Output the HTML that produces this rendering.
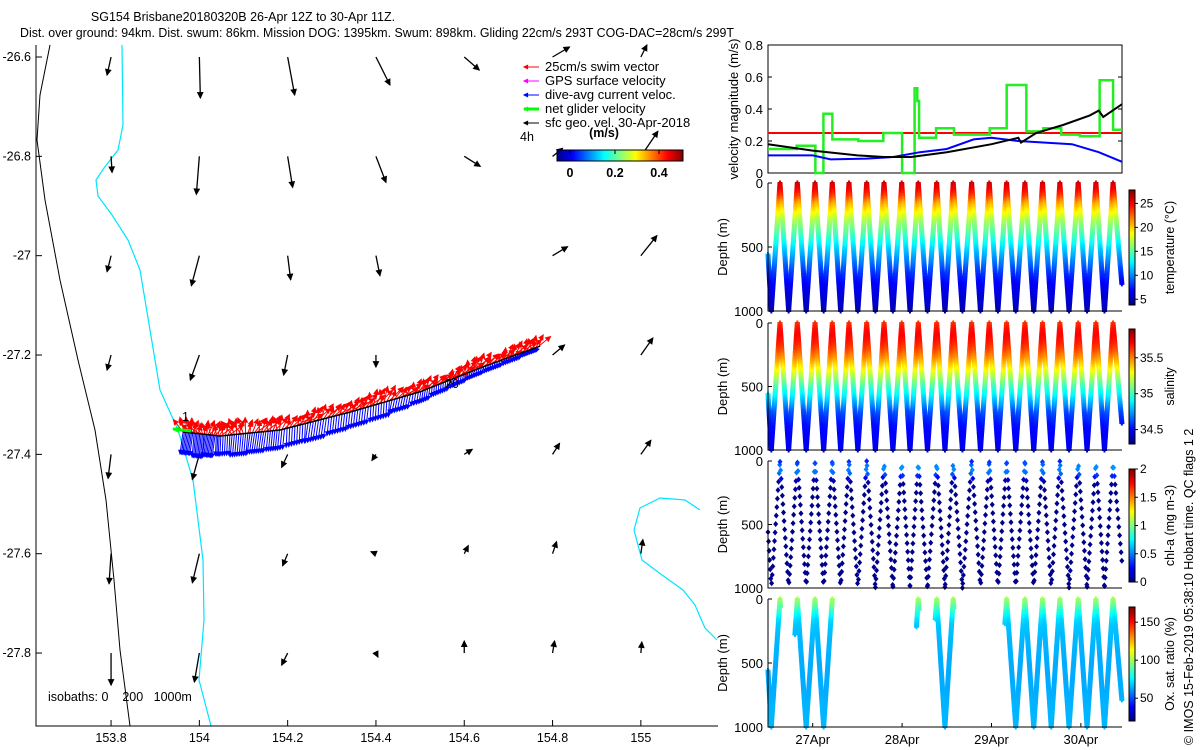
<!DOCTYPE html>
<html><head><meta charset="utf-8"><style>
html,body{margin:0;padding:0;background:#fff;}
svg{display:block;font-family:"Liberation Sans",sans-serif;}
</style></head><body>
<svg id="root" width="1200" height="750" viewBox="0 0 1200 750" xmlns="http://www.w3.org/2000/svg">
<text x="243" y="21" font-size="12.5" text-anchor="middle">SG154 Brisbane20180320B 26-Apr 12Z to 30-Apr 11Z.</text>
<text x="20" y="37" font-size="12.5" textLength="714" lengthAdjust="spacingAndGlyphs">Dist. over ground: 94km. Dist. swum: 86km. Mission DOG: 1395km. Swum: 898km. Gliding 22cm/s 293T COG-DAC=28cm/s 299T</text>
<g id="map"></g>
<g id="vel"></g>
<g id="prof"></g>
<text transform="translate(1193,745) rotate(-90)" font-size="12.5">© IMOS 15-Feb-2019 05:38:10 Hobart time. QC flags 1  2</text>
</svg>
<script>
// ---------- DATA ----------
const lonTicks=[153.8,154,154.2,154.4,154.6,154.8,155];
const latTicks=[-26.6,-26.8,-27,-27.2,-27.4,-27.6,-27.8];
const geoU=[[-0.04,0.01,0.07,0.14,0.15,0.17,0.06],[0.01,-0.03,0.05,0.10,0.16,0.10,0.17],[-0.04,-0.08,0.03,0.04,0.0,0.15,0.16],[-0.04,-0.09,-0.04,0.0,0.0,0.12,0.12],[-0.03,-0.07,-0.06,-0.04,0.08,0.07,0.10],[-0.02,-0.07,-0.05,-0.05,0.04,0.04,0.02],[0.0,-0.05,-0.06,0.02,0.0,0.02,0.01]];
const geoV=[[-0.18,-0.41,-0.38,-0.28,-0.13,0.10,0.12],[-0.16,-0.38,-0.31,-0.26,-0.10,0.08,0.25],[-0.16,-0.30,-0.24,-0.20,0.0,0.09,0.20],[-0.15,-0.25,-0.20,-0.12,0.0,0.10,0.17],[-0.24,-0.25,-0.13,-0.06,0.05,0.11,0.14],[-0.30,-0.29,-0.12,0.02,0.08,0.12,0.14],[-0.32,-0.29,-0.12,-0.04,0.12,0.12,0.11]];
const trackLon=[153.963,154.047,154.183,154.341,154.500,154.636,154.772];
const trackLat=[-27.355,-27.363,-27.351,-27.315,-27.274,-27.226,-27.182];
const swimU=[-0.02,-0.05,0.04,0.06,-0.03,0.08,0.05,0.10,0.07,0.12,0.09,0.06,0.11,0.08,0.13,0.10,0.07,0.12,0.09,0.05];
const swimV=[0.16,0.12,0.15,0.14,0.17,0.15,0.16,0.13,0.16,0.14,0.15,0.17,0.13,0.15,0.12,0.14,0.16,0.12,0.15,0.14];
const dacU=[-0.03,-0.02,-0.03,-0.01,-0.02,-0.03,-0.02,-0.01,-0.03,-0.02,-0.02,-0.01,-0.03,-0.02,-0.01,-0.02,-0.03,-0.02,-0.01,-0.02];
const dacV=[-0.22,-0.24,-0.22,-0.2,-0.22,-0.21,-0.2,-0.19,-0.2,-0.18,-0.17,-0.16,-0.14,-0.12,-0.1,-0.09,-0.08,-0.07,-0.06,-0.05];
const redVal=0.25;
const greenT=[26.5,26.82,27.03,27.12,27.22,27.51,27.79,28.0,28.14,28.17,28.19,28.38,28.58,28.98,29.17,29.39,29.58,29.78,29.99,30.21,30.36];
const greenV=[0.15,0.17,0,0.37,0.21,0.2,0.25,0,0.53,0.45,0.22,0.28,0.24,0.28,0.55,0.26,0.28,0.24,0.23,0.58,0.27];
const blackT=[26.5,27.0,27.5,27.8,28.1,28.5,29.0,29.3,29.33,29.5,29.8,30.1,30.2,30.25,30.46];
const blackV=[0.18,0.14,0.11,0.10,0.10,0.13,0.18,0.22,0.19,0.25,0.30,0.36,0.39,0.35,0.43];
const blueT=[26.5,27.0,27.2,27.6,27.9,28.2,28.5,28.8,29.0,29.3,29.6,29.9,30.2,30.46];
const blueV=[0.11,0.11,0.085,0.09,0.10,0.13,0.15,0.21,0.22,0.20,0.19,0.18,0.13,0.07];
const dateTicks=[27,28,29,30];
const dateLabels=["27Apr","28Apr","29Apr","30Apr"];
const surfT=[26.634,26.828,27.026,27.219,27.406,27.604,27.798,27.996,28.181,28.387,28.572,28.778,28.975,29.169,29.374,29.571,29.765,29.970,30.168,30.360];
const profDepth=[0,50,100,150,200,300,400,500,600,700,800,1000];
const tempProf=[26,25,23.5,21,19.5,16.5,14.5,12,10,8,6.5,5];
const salProf=[35.62,35.68,35.7,35.66,35.6,35.42,35.22,35.0,34.82,34.62,34.52,34.46];
const chlProf=[0.3,0.55,0.45,0.1,0.03,0.02,0.02,0.02,0.02,0.02,0.02,0.02];
const oxProf=[100,92,80,72,68,66,65,64,64,64,65,66];
const oxIntervals=[[26.5,26.64],[26.8,27.22],[28.16,28.19],[28.37,28.58],[29.15,30.46]];

// ---------- HELPERS ----------
const NS="http://www.w3.org/2000/svg";
function mk(tag,attrs,parent){const e=document.createElementNS(NS,tag);for(const k in attrs)e.setAttribute(k,attrs[k]);parent.appendChild(e);return e;}
function txt(s,x,y,attrs,parent){const e=mk('text',Object.assign({x:x,y:y,'font-size':12.5},attrs),parent);e.textContent=s;return e;}
function jet(v){v=Math.max(0,Math.min(1,v));const c=x=>Math.round(255*Math.max(0,Math.min(1,x)));return `rgb(${c(1.5-Math.abs(4*v-3))},${c(1.5-Math.abs(4*v-2))},${c(1.5-Math.abs(4*v-1))})`;}
function interp(xs,ys,x){if(x<=xs[0])return ys[0];for(let i=1;i<xs.length;i++){if(x<=xs[i]){const f=(x-xs[i-1])/(xs[i]-xs[i-1]);return ys[i-1]+f*(ys[i]-ys[i-1]);}}return ys[ys.length-1];}
function arrow(g,x1,y1,x2,y2,col,w,hs){
  const l=mk('line',{x1:x1,y1:y1,x2:x2,y2:y2,stroke:col,'stroke-width':w},g);
  const a=Math.atan2(y2-y1,x2-x1);
  const p=[[x2,y2],[x2-hs*Math.cos(a-0.45),y2-hs*Math.sin(a-0.45)],[x2-hs*Math.cos(a+0.45),y2-hs*Math.sin(a+0.45)]];
  mk('polygon',{points:p.map(q=>q.join(',')).join(' '),fill:col,stroke:col,'stroke-width':1},g);
  return l;
}

// ---------- MAP ----------
const map=document.getElementById('map');
const mx=lon=>36+(lon-153.630)*441.5;
const my=lat=>57+(-26.6-lat)*496.7;
const coast=mk('polyline',{points:"50,45 40,95 37,140 45,200 60,280 78,360 95,430 106,500 114,580 120,650 130,726",fill:'none',stroke:'#000','stroke-width':1},map);


const iso200=mk('polyline',{points:"122,45 123,125 118,150 104,168 96,180 98,196 112,215 128,240 140,270 150,330 160,390 178,430 193,480 203,560 204,620 199,680 211,726",fill:'none',stroke:'#00e5ff','stroke-width':1.2},map);


const iso2=mk('polyline',{points:"717,640 705,628 695,605 683,590 662,575 642,560 634,530 640,508 660,498 685,500 700,510",fill:'none',stroke:'#00e5ff','stroke-width':1.2},map);


const ax=mk('path',{d:"M36,45 V726 H718",fill:'none',stroke:'#000','stroke-width':1},map);


latTicks.forEach(lat=>{const y=my(lat);mk('line',{x1:36,y1:y,x2:42,y2:y,stroke:'#000'},map);
  const t=txt(String(lat),31,y+4,{'text-anchor':'end'},map);
  
  });
lonTicks.forEach(lon=>{const x=mx(lon);mk('line',{x1:x,y1:726,x2:x,y2:720,stroke:'#000'},map);
  const t=txt(String(lon),x,742,{'text-anchor':'middle'},map);
  
  });
const gs=100;
latTicks.forEach((lat,i)=>lonTicks.forEach((lon,j)=>{
  const x=mx(lon),y=my(lat),u=geoU[i][j],v=geoV[i][j];
  if(Math.abs(u)+Math.abs(v)<0.005)return;
  const l=arrow(map,x,y,x+u*gs,y-v*gs,'#000',1.3,6);
  
  
}));
function trackPt(s){const n=trackLon.length-1;const f=s*n;const i=Math.min(n-1,Math.floor(f));const r=f-i;
  return [mx(trackLon[i]+(trackLon[i+1]-trackLon[i])*r),my(trackLat[i]+(trackLat[i+1]-trackLat[i])*r)];}
const nd=swimU.length, per=8, vs=100;
const blueG=mk('g',{},map);
const redG=mk('g',{},map);
for(let d=0;d<nd;d++)for(let k=0;k<per;k++){
  const s=(d*per+k)/(nd*per);const [x,y]=trackPt(s);
  arrow(blueG,x,y,x+dacU[d]*vs,y-dacV[d]*vs,'#0000ff',1,4);
  const rot=(k%4-1.5)*0.05;
  arrow(redG,x,y,x+(swimU[d]+rot)*vs,y-(swimV[d]-Math.abs(rot)*0.5)*vs,'#ff0000',1,5);
}
const tp=[];for(let i=0;i<trackLon.length;i++)tp.push(mx(trackLon[i])+','+my(trackLat[i]));
const trk=mk('polyline',{points:tp.join(' '),fill:'none',stroke:'#000','stroke-width':1.5},map);


const ng=arrow(map,mx(trackLon[0])+8,my(trackLat[0])-1,mx(trackLon[0])-10,my(trackLat[0])-3,'#00ff00',3,6);


txt('1',182,421,{},map);
txt('20',445,388,{},map);
txt('isobaths: 0\u00a0\u00a0\u00a0 200\u00a0\u00a0 1000m',48,701,{},map);
const leg=mk('g',{},map);
const legItems=[['25cm/s swim vector','#ff0000',1],['GPS surface velocity','#ff00ff',1],['dive-avg current veloc.','#0000ff',1],['net glider velocity','#00ff00',3],['sfc geo. vel. 30-Apr-2018','#000',1]];
legItems.forEach((it,i)=>{const y=71+i*14;arrow(leg,539,y-4,524,y-4,it[1],it[2],4);
  const t=txt(it[0],545,y,{'font-size':13},leg);});
txt('4h',520,141,{},leg);
txt('(m/s)',604,137,{'font-weight':'bold','text-anchor':'middle'},leg);
const defs=mk('defs',{},document.getElementById('root'));
const lg=mk('linearGradient',{id:'jetH',x1:0,x2:1,y1:0,y2:0},defs);
const lgv=mk('linearGradient',{id:'jetV',x1:0,x2:0,y1:1,y2:0},defs);
for(let i=0;i<=16;i++){mk('stop',{offset:i/16,'stop-color':jet(i/16)},lg);mk('stop',{offset:i/16,'stop-color':jet(i/16)},lgv);}
const cb=mk('rect',{x:557,y:150,width:126,height:11,fill:'url(#jetH)',stroke:'#000'},leg);

[[0,570],[0.2,615],[0.4,659]].forEach(p=>{txt(String(p[0]),p[1],177,{'font-weight':'bold','text-anchor':'middle'},leg);mk('line',{x1:p[1],y1:150,x2:p[1],y2:154,stroke:'#000'},leg);});

// ---------- VELOCITY PANEL ----------
const vel=document.getElementById('vel');
const X0=768,X1=1122,T0=26.5,T1=30.46;
const tx=t=>X0+(t-T0)/(T1-T0)*(X1-X0);
const vy=v=>173-v/0.8*128;
mk('rect',{x:X0,y:45,width:X1-X0,height:128,fill:'none',stroke:'#000'},vel);
[0,0.2,0.4,0.6,0.8].forEach(v=>{const y=vy(v);mk('line',{x1:X0,y1:y,x2:X0+4,y2:y,stroke:'#000'},vel);mk('line',{x1:X1,y1:y,x2:X1-4,y2:y,stroke:'#000'},vel);
  txt(String(v),763,y+5,{'text-anchor':'end','font-size':13},vel);});
txt('velocity magnitude (m/s)',0,0,{transform:'translate(738,109) rotate(-90)','text-anchor':'middle','font-size':13},vel);
const rl=mk('line',{x1:X0,y1:vy(redVal),x2:X1,y2:vy(redVal),stroke:'#ff0000','stroke-width':2},vel);

let gp=[];for(let i=0;i<greenT.length;i++){const e=i+1<greenT.length?greenT[i+1]:T1;gp.push(tx(greenT[i])+','+vy(greenV[i]));gp.push(tx(e)+','+vy(greenV[i]));}
const gl=mk('polyline',{points:gp.join(' '),fill:'none',stroke:'#22ee22','stroke-width':2.5},vel);

const bl=mk('polyline',{points:blueT.map((t,i)=>tx(t)+','+vy(blueV[i])).join(' '),fill:'none',stroke:'#0000ff','stroke-width':2},vel);

const kl=mk('polyline',{points:blackT.map((t,i)=>tx(t)+','+vy(blackV[i])).join(' '),fill:'none',stroke:'#000','stroke-width':2},vel);


// ---------- PROFILE PANELS ----------
const prof=document.getElementById('prof');
const verts=[[26.5,560],[26.537,1000]];
for(let i=0;i<surfT.length;i++){verts.push([surfT[i],0]);if(i+1<surfT.length)verts.push([(surfT[i]+surfT[i+1])/2,1000]);}
verts.push([T1,800]);
function samples(step,stagger){const out=[];for(let i=0;i+1<verts.length;i++){const a=verts[i],b=verts[i+1];const len=Math.abs(b[1]-a[1]);
  const off=stagger?((i*37)%step)/len:0;const n=Math.max(1,Math.round(len/step));
  for(let k=0;k<n;k++){const f=Math.min(0.999,k/n+off);out.push([a[0]+f*(b[0]-a[0]),a[1]+f*(b[1]-a[1])]);}}return out;}
const dense=samples(12,false), sparse=samples(68,true);
const panels=[
 {name:'temperature',y0:183,y1:311,prof:tempProf,lo:3.8,hi:27.8,ticks:[5,10,15,20,25],title:'temperature (°C)',cb:[190,305],pts:dense,mark:'rect'},
 {name:'salinity',y0:323,y1:450,prof:salProf,lo:34.3,hi:35.9,ticks:[34.5,35,35.5],title:'salinity',cb:[329,444],pts:dense,mark:'rect'},
 {name:'chlorophyll',y0:461,y1:588,prof:chlProf,lo:0,hi:2,ticks:[0,0.5,1,1.5,2],title:'chl-a (mg m-3)',cb:[469,582],pts:sparse,mark:'diamond'},
 {name:'oxygen',y0:599,y1:727,prof:oxProf,lo:20,hi:170,ticks:[50,100,150],title:'Ox. sat. ratio (%)',cb:[607,721],pts:dense.filter(p=>oxIntervals.some(iv=>p[0]>=iv[0]&&p[0]<=iv[1])),mark:'rect'}
];
panels.forEach(P=>{
  const g=mk('g',{},prof);
  const dy=d=>P.y0+d/1000*(P.y1-P.y0);
  P.pts.forEach(p=>{const val=interp(profDepth,P.prof,p[1]);const c=jet((val-P.lo)/(P.hi-P.lo));const x=tx(p[0]),y=dy(p[1]);
    if(P.mark==='rect'){mk('rect',{x:x-2.5,y:y-1,width:5,height:2,fill:c},g);mk('rect',{x:x-1,y:y-2.5,width:2,height:5,fill:c},g);}
    else mk('polygon',{points:`${x},${y-3} ${x+2.5},${y} ${x},${y+3} ${x-2.5},${y}`,fill:c},g);});
  mk('path',{d:`M${X0},${P.y0} V${P.y1} H${X1}`,fill:'none',stroke:'#000'},g);
  [0,500,1000].forEach(d=>{const y=dy(d);mk('line',{x1:X0,y1:y,x2:X0+4,y2:y,stroke:'#000'},g);txt(String(d),763,y+5,{'text-anchor':'end','font-size':13},g);});
  txt('Depth (m)',0,0,{transform:`translate(727,${(P.y0+P.y1)/2}) rotate(-90)`,'text-anchor':'middle','font-size':13},g);
  const r=mk('rect',{x:1129,y:P.cb[0],width:6,height:P.cb[1]-P.cb[0],fill:'url(#jetV)',stroke:'#000'},g);
  
  P.ticks.forEach(v=>{const y=P.cb[1]-(v-P.lo)/(P.hi-P.lo)*(P.cb[1]-P.cb[0]);mk('line',{x1:1135,y1:y,x2:1138,y2:y,stroke:'#000'},g);txt(String(v),1140,y+4,{'font-size':12},g);});
  txt(P.title,0,0,{transform:`translate(1174,${(P.cb[0]+P.cb[1])/2}) rotate(-90)`,'text-anchor':'middle','font-size':12.5},g);
});
dateTicks.forEach((d,i)=>{const x=tx(d);mk('line',{x1:x,y1:727,x2:x,y2:723,stroke:'#000'},prof);
  const t=txt(dateLabels[i],x,744,{'text-anchor':'middle','font-size':13},prof);
  });
</script>
</body></html>
